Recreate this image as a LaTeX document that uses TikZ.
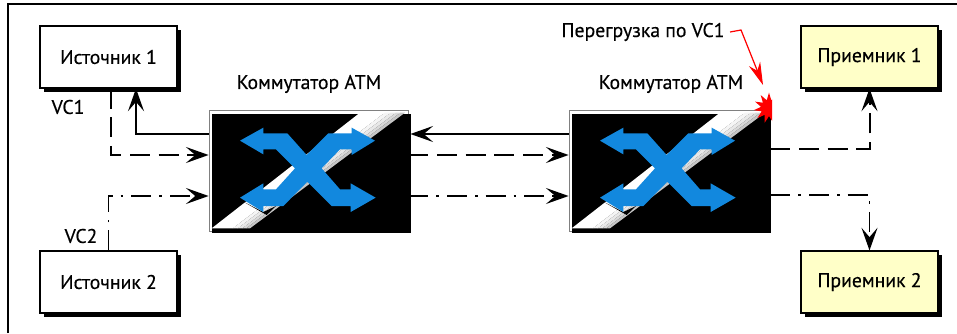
\documentclass[tikz,border=0pt]{standalone}
\usepackage{fontspec}
\setmainfont{PT Sans}
\newfontfamily\lblfont{PT Sans}[FakeBold=0.35]
\usetikzlibrary{arrows.meta,shapes.geometric,shadows}
\tikzset{
  box/.style={draw, line width=0.8pt, minimum width=102.75pt, minimum height=46.5pt,
    font=\lblfont\fontsize{14.8}{17}\selectfont,
    drop shadow={shadow xshift=3pt, shadow yshift=-3pt, fill=black, opacity=1}},
  lab/.style={inner sep=0pt, font=\lblfont\fontsize{14.8}{17}\selectfont},
  tip/.style={-{Stealth[length=17pt, width=12pt, inset=7pt]}},
  solidline/.style={line width=1.5pt, tip},
  dashline/.style={line width=1.5pt, tip, dash pattern=on 15pt off 6.5pt},
  dotline/.style={line width=1.2pt, tip, dash pattern=on 15pt off 6pt on 2pt off 6pt},
}
\definecolor{recv}{HTML}{FFFFC8}
\definecolor{xblue}{HTML}{1288DE}

\begin{document}
\begin{tikzpicture}[x=0.75pt, y=-0.75pt]
  \path[fill=white, use as bounding box] (0,0) rectangle (957,333);
  \draw[line width=0.9pt] (8,333) -- (8,4) -- (957,4);

  \node [box, fill=white] (srca) at (108.5,57) {Источник 1};
  \node [box, fill=white] (srcb) at (108.5,282) {Источник 2};
  \node [box, fill=recv] (dsta) at (869.5,57) {Приемник 1};
  \node [box, fill=recv] (dstb) at (869.5,282) {Приемник 2};

  % switches, inner part in coordinates of a 3x crop
  \foreach \sx/\nm in {0/swa, 360/swb} {
    \node [draw=gray, line width=0.6pt, fill=white, minimum width=149.25pt, minimum height=90.75pt]
      (\nm) at (308.5+\sx,170.5) {};
    \begin{scope}[shift={(200+\sx,100)}, x=0.25pt, y=-0.25pt]
      \fill[black] (36,42) rectangle (633,400);
      \foreach \ta/\tb/\cl in {0/0.55/white, 0.55/0.68/gray!8, 0.68/0.8/gray!18, 0.8/0.9/gray!30, 0.9/1/gray!45}
        \fill[\cl] ({480+135*\ta},38) -- ({480+135*\tb},38) -- ({35+115*\tb},385) -- ({35+115*\ta},385) -- cycle;
      \fill[black] (130,305) -- (190,336) -- (228,318) -- (200,345) -- cycle;
      \fill[xblue] (120,122) -- (190,83) -- (190,100) -- (262,100) -- (320,165) -- (385,100)
        -- (455,100) -- (455,83) -- (525,122) -- (455,165) -- (455,148) -- (420,148)
        -- (365,205) -- (420,268) -- (452,268) -- (452,250) -- (527,293) -- (452,336)
        -- (452,318) -- (395,318) -- (322,245) -- (250,318) -- (190,318) -- (190,336)
        -- (120,293) -- (190,250) -- (190,268) -- (228,268) -- (285,205) -- (228,148)
        -- (190,148) -- (190,163) -- cycle;
    \end{scope}
  }

  \node [lab] (titlea) at (309,84) {Коммутатор АТМ};
  \node [lab] (titleb) at (671,84) {Коммутатор АТМ};
  \node [lab] (vca) at (68,107) {VC1};
  \node [lab] (vcb) at (81,236) {VC2};
  \node [lab] (over) at (643,32) {Перегрузка по VC1};

  \begin{scope}
    \clip (740,80) rectangle (772,130);
    \node [star, star points=11, star point ratio=1.9, fill=red, inner sep=0pt, minimum size=23pt] (burst) at (769,108) {};
  \end{scope}
  \coordinate (bursttip) at (763,85);
  \draw[red, line width=0.9pt, -{Stealth[length=17pt, width=9pt]}]
    ([xshift=4pt]over.east) -- (741,30) -- (bursttip);

  % connections
  \draw[solidline] (swa.west |- 0,134) -- (136,134) -- (136,0 |- srca.south);
  \draw[dashline] (110.5,0 |- srca.south) -- (110.5,155) -- (swa.west |- 0,155);
  \draw[dotline] (108.5,0 |- srcb.north) -- (108.5,196) -- (swa.west |- 0,196);
  \draw[solidline] (swb.west |- 0,134) -- ([xshift=1.5pt]swa.east |- 0,134);
  \draw[dashline] (swa.east |- 0,155) -- (swb.west |- 0,155);
  \draw[dotline] (swa.east |- 0,196) -- (swb.west |- 0,196);
  \draw[dashline] ([xshift=1.5pt]swb.east |- 0,149) -| (dsta.south);
  \draw[dotline] ([xshift=1.5pt]swb.east |- 0,195) -| (dstb.north);
\end{tikzpicture}
\end{document}
